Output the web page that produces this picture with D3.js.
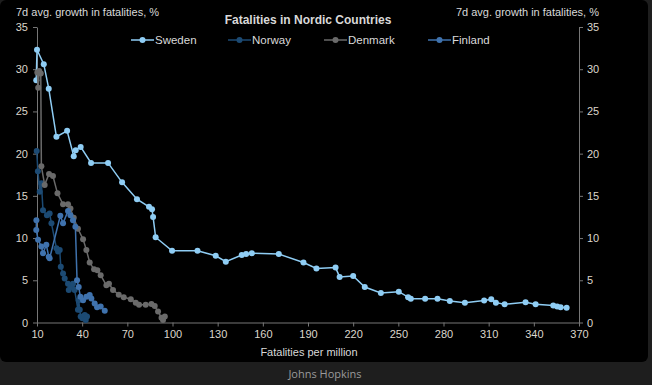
<!DOCTYPE html>
<html>
<head>
<meta charset="utf-8">
<script src="https://cdn.jsdelivr.net/npm/d3@7"></script>
<style>
  html, body { margin: 0; padding: 0; background: #1e1e1e; }
  svg { display: block; }
  .chart-text { font-family: "Liberation Sans Narrow", "Arial Narrow", "Liberation Sans", Arial, sans-serif; }
</style>
</head>
<body>
<div id="chart"></div>
<script>
// Series data (x: fatalities per million, y: 7d avg growth in fatalities, %)
let swedenX = [9.5, 10, 14.5, 17.8, 22.9, 30, 34.4, 35.7, 39, 45.9, 57.2, 66.5, 76.4, 84.4, 86.4, 87.1, 88.8, 99.7, 116.6, 128.7, 135.4, 146, 148.9, 152.7, 170.6, 187, 195.6, 208.3, 211, 220, 227.7, 238.4, 250.3, 256.5, 258.3, 267.8, 276, 284.2, 294.2, 307, 311.7, 314.8, 320.6, 334.5, 341.2, 352.9, 355.5, 357.8, 361.8];
let swedenY = [28.7, 32.3, 30.6, 27.7, 22.0, 22.7, 19.7, 20.4, 20.8, 18.9, 18.9, 16.6, 14.6, 13.7, 13.4, 12.5, 10.1, 8.5, 8.5, 7.9, 7.2, 8.0, 8.1, 8.2, 8.1, 7.1, 6.4, 6.5, 5.4, 5.5, 4.2, 3.5, 3.65, 3.0, 2.8, 2.8, 2.8, 2.55, 2.35, 2.6, 2.75, 2.35, 2.15, 2.4, 2.15, 2.0, 1.9, 1.8, 1.75];

let norwayX = [9.8, 10.6, 11.8, 12.9, 14, 16.6, 18.4, 19.6, 22.9, 24, 25.1, 25.8, 27.3, 28.4, 30.6, 31.1, 32.9, 33.9, 35, 37.2, 37.7, 38.4, 39, 40.2, 41.7, 43.2, 42.4];
let norwayY = [20.3, 17.9, 15.5, 16.5, 13.3, 12.7, 12.9, 11.75, 8.8, 8.4, 8.6, 6.6, 5.8, 5.2, 4.6, 3.85, 4.2, 4.6, 3.85, 1.5, 2.65, 1.5, 0.7, 0.5, 0.9, 0.7, 0.3];

let denmarkX = [10.2, 10.8, 11.5, 12.5, 12.9, 15.1, 18, 20.6, 23.6, 27.3, 30.6, 32.2, 34.4, 37.2, 40.6, 42.8, 45, 47.9, 50.1, 52.3, 56.1, 57.8, 60.5, 64.3, 67.6, 72.3, 75.6, 77.8, 82.2, 86, 88.2, 90.4, 92.7, 94.9, 93.7];
let denmarkY = [29.6, 27.8, 29.8, 29.5, 18.5, 16.3, 17.6, 17.35, 15.3, 14.0, 14.0, 13.5, 12.4, 11.1, 9.85, 8.6, 7.1, 6.3, 6.2, 5.6, 4.4, 4.6, 3.85, 3.3, 3.0, 2.75, 2.35, 2.1, 2.1, 2.2, 1.95, 1.3, 0.57, 0.7, 0.3];

let finlandX = [9.6, 9.5, 10.7, 12.9, 14, 16.2, 17.8, 18.4, 25.5, 27.3, 30.6, 32.2, 33.9, 35.5, 36.6, 37.7, 38.8, 40.6, 42.8, 45, 46.1, 48.3, 49.9, 52.3, 55];
let finlandY = [12.1, 10.95, 9.8, 9.0, 8.2, 9.2, 7.8, 7.6, 12.65, 11.75, 13.2, 12.7, 12.1, 11.35, 5.0, 4.2, 3.05, 2.65, 3.05, 3.25, 2.85, 2.25, 1.8, 1.9, 1.4];

let seriesNames = ['Sweden', 'Norway', 'Denmark', 'Finland'];
let seriesColors = ['#8fcdf4', '#1c4a73', '#6a6a6a', '#3f72ad'];
let xTicks = [10, 40, 70, 100, 130, 160, 190, 220, 250, 280, 310, 340, 370];
let yTicks = [0, 5, 10, 15, 20, 25, 30, 35];

let chartTitle = 'Fatalities in Nordic Countries';
let yTitle = '7d avg. growth in fatalities, %';
let xTitle = 'Fatalities per million';
let sourceText = 'Johns Hopkins';

let width = 652;
let height = 385;
let plot = { left: 37, right: 579, top: 27, bottom: 322.5 };

let svg = d3.select('#chart')
    .append('svg')
    .attr('width', width)
    .attr('height', height);

// Black panel with rounded corners
svg.append('rect')
    .attr('x', 0)
    .attr('y', 0)
    .attr('width', 648)
    .attr('height', 362)
    .attr('rx', 6)
    .attr('fill', '#000');

let x = d3.scaleLinear()
    .domain([10, 370])
    .range([plot.left, plot.right]);

let y = d3.scaleLinear()
    .domain([0, 35])
    .range([plot.bottom, plot.top]);

// Axes
function styleAxis(g) {
    g.select('.domain').attr('stroke', '#777');
    g.selectAll('.tick line').attr('stroke', '#777');
    g.selectAll('.tick text')
        .attr('fill', '#dcd6cc')
        .attr('class', 'chart-text')
        .attr('font-size', '11px');
}

svg.append('g')
    .attr('transform', 'translate(0,' + plot.bottom + ')')
    .call(d3.axisBottom(x).tickValues(xTicks).tickSize(4).tickPadding(4).tickSizeOuter(0))
    .call(styleAxis);

svg.append('g')
    .attr('transform', 'translate(' + plot.left + ',0)')
    .call(d3.axisLeft(y).tickValues(yTicks).tickSize(4).tickPadding(5).tickSizeOuter(0))
    .call(styleAxis);

svg.append('g')
    .attr('transform', 'translate(' + plot.right + ',0)')
    .call(d3.axisRight(y).tickValues(yTicks).tickSize(4).tickPadding(4).tickSizeOuter(0))
    .call(styleAxis);

// Series
let allX = [swedenX, norwayX, denmarkX, finlandX];
let allY = [swedenY, norwayY, denmarkY, finlandY];

let line = d3.line()
    .x(d => x(d[0]))
    .y(d => y(d[1]));

for (let i = 0; i < seriesNames.length; ++i) {
    let pts = d3.zip(allX[i], allY[i]);
    let g = svg.append('g').attr('class', 'series-' + seriesNames[i]);

    g.append('path')
        .datum(pts)
        .attr('d', line)
        .attr('fill', 'none')
        .attr('stroke', seriesColors[i])
        .attr('stroke-width', 1.5);

    g.selectAll('circle')
        .data(pts)
        .enter()
        .append('circle')
        .attr('cx', d => x(d[0]))
        .attr('cy', d => y(d[1]))
        .attr('r', 3)
        .attr('fill', seriesColors[i]);
}

// Titles
svg.append('text')
    .attr('class', 'chart-text')
    .attr('x', 308)
    .attr('y', 24)
    .attr('text-anchor', 'middle')
    .attr('font-size', '12px')
    .attr('font-weight', 'bold')
    .attr('fill', '#d9d9d9')
    .text(chartTitle);

svg.append('text')
    .attr('class', 'chart-text')
    .attr('x', 16)
    .attr('y', 16)
    .attr('font-size', '11px')
    .attr('fill', '#d9d9d9')
    .text(yTitle);

svg.append('text')
    .attr('class', 'chart-text')
    .attr('x', 599)
    .attr('y', 16)
    .attr('text-anchor', 'end')
    .attr('font-size', '11px')
    .attr('fill', '#d9d9d9')
    .text(yTitle);

svg.append('text')
    .attr('class', 'chart-text')
    .attr('x', 309)
    .attr('y', 356)
    .attr('text-anchor', 'middle')
    .attr('font-size', '11px')
    .attr('fill', '#d9d9d9')
    .text(xTitle);

// Legend
let legendX = [131, 228, 324, 428];
let legend = svg.append('g');
for (let i = 0; i < seriesNames.length; ++i) {
    let item = legend.append('g').attr('transform', 'translate(' + legendX[i] + ',40)');
    item.append('line')
        .attr('x1', 0).attr('x2', 23)
        .attr('y1', 0).attr('y2', 0)
        .attr('stroke', seriesColors[i])
        .attr('stroke-width', 1.5);
    item.append('circle')
        .attr('cx', 11.5).attr('cy', 0).attr('r', 3)
        .attr('fill', seriesColors[i]);
    item.append('text')
        .attr('class', 'chart-text')
        .attr('x', 24)
        .attr('y', 4)
        .attr('font-size', '11.5px')
        .attr('fill', '#d9d9d9')
        .text(seriesNames[i]);
}

// Source footer
svg.append('text')
    .attr('x', 325)
    .attr('y', 378)
    .attr('text-anchor', 'middle')
    .attr('font-family', '"Open Sans", sans-serif')
    .attr('font-size', '11px')
    .attr('fill', '#9a9a9a')
    .text(sourceText);
</script>
</body>
</html>
